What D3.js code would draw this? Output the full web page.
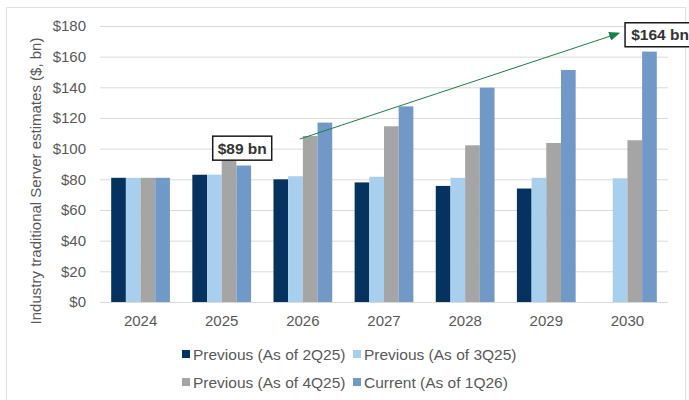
<!DOCTYPE html>
<html>
<head>
<meta charset="utf-8">
<script src="https://cdn.jsdelivr.net/npm/d3@7"></script>
<style>
  body { margin: 0; background: #fff; }
  text { font-family: Arial, "Liberation Sans", sans-serif; }
  .axis text { fill: #595959; font-size: 15px; }
  .axis path, .axis line { display: none; }
  .grid line { stroke: #d9d9d9; stroke-width: 1; }
  .callout text { font-weight: bold; font-size: 15.5px; fill: #333; }
</style>
</head>
<body>
<div id="chart"></div>
<script>
const years = ['2024', '2025', '2026', '2027', '2028', '2029', '2030'];
const seriesNames = ['Previous (As of 2Q25)', 'Previous (As of 3Q25)', 'Previous (As of 4Q25)', 'Current (As of 1Q26)'];
const prev2Q25 = [81, 83, 80, 78, 75.7, 74, null];
const prev3Q25 = [81, 83, 82, 81.7, 81, 81, 80.7];
const prev4Q25 = [81, 93, 108.3, 114.6, 102.2, 103.7, 105.5];
const current1Q26 = [81, 89, 117, 127.6, 139.8, 151.3, 163.3];
const yTicks = [0, 20, 40, 60, 80, 100, 120, 140, 160, 180];
const colors = ['#05325e', '#a9cfee', '#a5a5a5', '#7199c8'];

const width = 689;
const height = 400;
const margin = { top: 26, left: 100, bottom: 98, right: 21 };
const innerW = width - margin.left - margin.right;
const innerH = height - margin.top - margin.bottom;

const svg = d3.select('#chart').append('svg')
    .attr('width', width)
    .attr('height', height);

svg.append('rect')
    .attr('x', 6.5).attr('y', 7.5)
    .attr('width', 679).attr('height', 400)
    .attr('fill', 'none')
    .attr('stroke', '#e0e0e0');

const g = svg.append('g')
    .attr('transform', `translate(${margin.left},${margin.top})`);

const xScale = d3.scaleBand()
    .domain(years)
    .range([0, innerW])
    .paddingInner(0.276)
    .paddingOuter(0.138);

const xSub = d3.scaleBand()
    .domain(seriesNames)
    .range([0, xScale.bandwidth()]);

const yScale = d3.scaleLinear()
    .domain([0, 180])
    .range([innerH, 0]);

g.append('g').attr('class', 'grid')
    .selectAll('line').data(yTicks)
    .enter().append('line')
    .attr('x1', 0).attr('x2', innerW)
    .attr('y1', d => yScale(d) + 0.5)
    .attr('y2', d => yScale(d) + 0.5);

const table = years.map((y, i) => ({
    year: y,
    values: [prev2Q25[i], prev3Q25[i], prev4Q25[i], current1Q26[i]]
}));

const group = g.append('g').attr('class', 'bars')
    .selectAll('g').data(table)
    .enter().append('g')
    .attr('transform', d => `translate(${xScale(d.year)},0)`);

group.selectAll('rect')
    .data(d => d.values.map((v, j) => ({ v, j })).filter(e => e.v !== null))
    .enter().append('rect')
    .attr('x', e => xSub(seriesNames[e.j]))
    .attr('width', xSub.bandwidth())
    .attr('y', e => yScale(e.v))
    .attr('height', e => innerH - yScale(e.v))
    .attr('fill', e => colors[e.j]);

g.append('g').attr('class', 'axis axis--y')
    .call(d3.axisLeft(yScale).tickValues(yTicks).tickFormat(d => '$' + d).tickSize(0).tickPadding(14));

g.append('g').attr('class', 'axis axis--x')
    .attr('transform', `translate(0,${innerH})`)
    .call(d3.axisBottom(xScale).tickSize(0).tickPadding(13));

svg.append('text')
    .attr('transform', `translate(41,181) rotate(-90)`)
    .attr('text-anchor', 'middle')
    .attr('fill', '#595959')
    .style('font-size', '15px')
    .text('Industry traditional Server estimates ($, bn)');

// growth arrow
const defs = svg.append('defs');
defs.append('marker')
    .attr('id', 'arrow')
    .attr('viewBox', '0 0 10 10')
    .attr('refX', 9).attr('refY', 5)
    .attr('markerWidth', 11).attr('markerHeight', 9)
    .attr('markerUnits', 'userSpaceOnUse')
    .attr('orient', 'auto')
    .attr('preserveAspectRatio', 'none')
    .append('path')
    .attr('d', 'M0,0L10,5L0,10Z')
    .attr('fill', '#1a7f46');

const ax0 = xScale('2026') + xSub(seriesNames[2]) - 3;
const ay0 = yScale(106.3);
const ax1 = xScale('2030') + 21;
const ay1 = yScale(175.3);

g.append('line')
    .attr('x1', ax0).attr('y1', ay0)
    .attr('x2', ax1).attr('y2', ay1)
    .attr('stroke', '#1a7f46')
    .attr('stroke-width', 1)
    .attr('marker-end', 'url(#arrow)');

// callouts
function callout(cx, cy, w, label) {
    const c = g.append('g').attr('class', 'callout')
        .attr('transform', `translate(${cx},${cy})`);
    c.append('rect')
        .attr('x', -w / 2).attr('y', -12)
        .attr('width', w).attr('height', 24)
        .attr('fill', '#fff')
        .attr('stroke', '#1a1a1a')
        .attr('stroke-width', 1.5);
    c.append('text')
        .attr('text-anchor', 'middle')
        .attr('dy', '0.36em')
        .text(label);
}

callout(xScale('2025') + xScale.bandwidth() / 2 + 20.5, yScale(100) - 0.5, 59, '$89 bn');
callout(xScale('2030') + 62, yScale(172) - 3.5, 70, '$164 bn');

// legend
const legendPos = [[182, 354], [353, 354], [182, 382], [353, 382]];
const legend = svg.append('g').attr('class', 'legend')
    .selectAll('g').data(seriesNames)
    .enter().append('g')
    .attr('transform', (d, i) => `translate(${legendPos[i][0]},${legendPos[i][1]})`);

legend.append('rect')
    .attr('x', 0).attr('y', -4)
    .attr('width', 8).attr('height', 8)
    .attr('fill', (d, i) => colors[i]);

legend.append('text')
    .attr('x', 11)
    .attr('dy', '0.36em')
    .attr('fill', '#595959')
    .style('font-size', '15.5px')
    .text(d => d);
</script>
</body>
</html>
